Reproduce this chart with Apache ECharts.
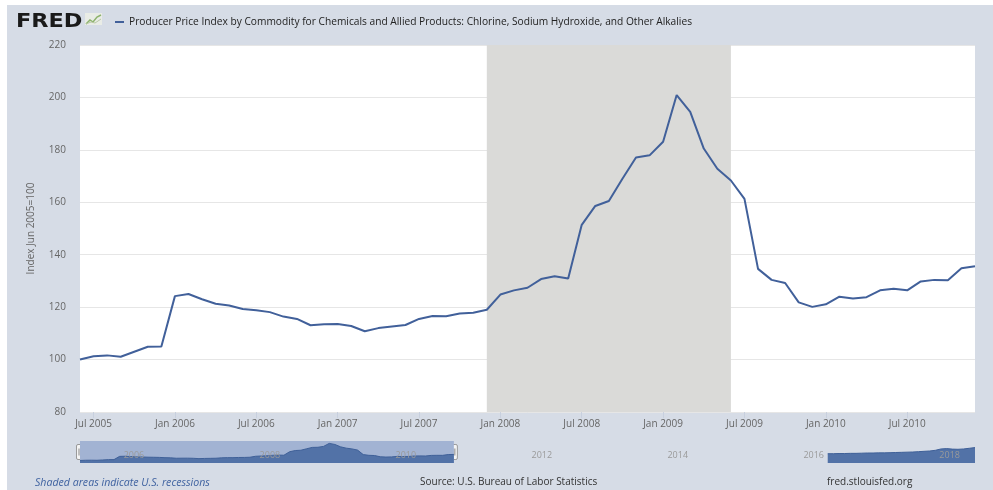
<!DOCTYPE html>
<html><head><meta charset="utf-8">
<script src="https://cdn.jsdelivr.net/npm/echarts@6/dist/echarts.min.js"></script>
<style>html,body{margin:0;padding:0;background:#fff;}#c{width:993px;height:490px;}</style>
</head><body><div id="c"></div>
<script>
const seriesName = "Producer Price Index by Commodity for Chemicals and Allied Products: Chlorine, Sodium Hydroxide, and Other Alkalies";
const yAxisName = "Index Jun 2005=100";
// monthly values, Jun 2005 .. Dec 2010
const v2005 = [100.0, 101.3, 101.6, 101.1, 103.0, 104.9, 105.0]; // Jun-Dec
const v2006 = [124.2, 125.0, 123.0, 121.3, 120.6, 119.3, 118.8, 118.1, 116.4, 115.5, 113.1, 113.5];
const v2007 = [113.6, 112.8, 110.8, 112.0, 112.6, 113.2, 115.5, 116.6, 116.5, 117.6, 117.9, 119.0];
const v2008 = [124.8, 126.4, 127.4, 130.7, 131.8, 130.9, 151.4, 158.6, 160.5, 169.0, 177.1, 177.9];
const v2009 = [183.1, 200.9, 194.5, 180.5, 172.8, 168.3, 161.3, 134.6, 130.4, 129.2, 121.8, 120.1];
const v2010 = [121.1, 124.0, 123.3, 123.8, 126.4, 127.0, 126.4, 129.8, 130.4, 130.3, 134.8, 135.6];
const yearBlocks = [[2005, 6, v2005], [2006, 1, v2006], [2007, 1, v2007], [2008, 1, v2008], [2009, 1, v2009], [2010, 1, v2010]];
// navigator tail segment (Jun 2016 .. Aug 2018)
const navTail2016 = [140, 140, 141, 141, 142, 142, 143]; // Jun-Dec
const navTail2017 = [144, 144, 145, 145, 146, 147, 148, 149, 150, 152, 154, 156];
const navTail2018 = [160, 168, 170, 167, 166, 168, 172, 176]; // Jan-Aug
const navBlocks = [[2016, 6, navTail2016], [2017, 1, navTail2017], [2018, 1, navTail2018]];
const xTicks = ['2005-07', '2006-01', '2006-07', '2007-01', '2007-07', '2008-01', '2008-07', '2009-01', '2009-07', '2010-01', '2010-07'];
const navTicks = ['2006-01', '2008-01', '2010-01', '2012-01', '2014-01', '2016-01', '2018-01'];
const recession = ['2007-12', '2009-06'];
const mainRange = ['2005-06', '2010-12'];
const navRange = ['2005-06', '2018-08'];
const yMin = 80, yMax = 220, yStep = 20;

const BASE_YEAR = 2005;
const MON = ['Jan','Feb','Mar','Apr','May','Jun','Jul','Aug','Sep','Oct','Nov','Dec'];
// month index counted from Jan 2005
function mi(s) { const p = s.split('-'); return (+p[0] - BASE_YEAR) * 12 + (+p[1] - 1); }
function miLabel(v) { const y = BASE_YEAR + Math.floor(v / 12); return MON[((v % 12) + 12) % 12] + ' ' + y; }
function blocksToData(blocks) {
  const out = [];
  blocks.forEach(([y, m0, vals]) => vals.forEach((v, i) => out.push([(y - BASE_YEAR) * 12 + (m0 - 1) + i, v])));
  return out;
}
const mainData = blocksToData(yearBlocks);
const navTailData = blocksToData(navBlocks);

const FONT = "'Open Sans', 'DejaVu Sans', sans-serif";
const lineColor = '#41609a';
const chart = echarts.init(document.getElementById('c'), null, {renderer: 'canvas'});
chart.setOption({
  backgroundColor: '#d6dce6',
  animation: false,
  textStyle: {fontFamily: FONT},
  legend: {
    left: 110, top: 12, icon: 'rect', itemWidth: 9, itemHeight: 2, itemGap: 6,
    data: [seriesName], selectedMode: false,
    textStyle: {fontSize: 10.2, color: '#222', fontFamily: FONT}
  },
  grid: [
    {left: 80, right: 18, top: 45, bottom: 78, show: true, backgroundColor: '#ffffff', borderWidth: 0},
    {left: 80, right: 18, top: 441, bottom: 27, show: false}
  ],
  xAxis: [
    {
      type: 'value', gridIndex: 0, min: mi(mainRange[0]), max: mi(mainRange[1]),
      axisLine: {show: false},
      axisTick: {show: true, customValues: xTicks.map(mi), length: 6, lineStyle: {color: '#c8d0de'}},
      axisLabel: {
        customValues: xTicks.map(mi), hideOverlap: false, margin: 7, color: '#666', fontSize: 10,
        formatter: v => miLabel(v)
      },
      splitLine: {show: false}
    },
    {
      type: 'value', gridIndex: 1, min: mi(navRange[0]), max: mi(navRange[1]), z: 10,
      axisLine: {show: false}, axisTick: {show: false}, splitLine: {show: false},
      axisLabel: {
        customValues: navTicks.map(mi), inside: true, margin: 3, align: 'left', padding: [0, 0, 0, 4],
        color: '#9a9a9a', fontSize: 9, hideOverlap: false,
        formatter: v => String(BASE_YEAR + Math.floor(v / 12))
      }
    }
  ],
  yAxis: [
    {
      type: 'value', gridIndex: 0, min: yMin, max: yMax, interval: yStep,
      axisLine: {show: false}, axisTick: {show: false},
      axisLabel: {color: '#666', fontSize: 10, margin: 14},
      splitLine: {lineStyle: {color: '#e6e6e6', width: 1}},
      name: yAxisName, nameLocation: 'middle', nameGap: 44,
      nameTextStyle: {color: '#666', fontSize: 10}
    },
    {type: 'value', gridIndex: 1, min: 85, max: 215, show: false}
  ],
  series: [
    {
      name: seriesName, type: 'line', xAxisIndex: 0, yAxisIndex: 0, data: mainData,
      symbol: 'none', z: 3,
      lineStyle: {color: lineColor, width: 2}, itemStyle: {color: lineColor},
      markArea: {silent: true, itemStyle: {color: '#dadad8'},
        data: [[{xAxis: mi(recession[0])}, {xAxis: mi(recession[1])}]]}
    },
    {
      name: 'navBand', type: 'line', xAxisIndex: 1, yAxisIndex: 1, data: mainData,
      symbol: 'none', silent: true, z: 1, lineStyle: {opacity: 0},
      markArea: {silent: true, itemStyle: {color: '#a2b3d3'},
        data: [[{xAxis: mi(mainRange[0])}, {xAxis: mi(mainRange[1])}]]}
    },
    {
      name: 'navMain', type: 'line', xAxisIndex: 1, yAxisIndex: 1, data: mainData,
      symbol: 'none', silent: true, z: 2,
      lineStyle: {color: '#3f6098', width: 1}, areaStyle: {color: '#5272a7', opacity: 1}
    },
    {
      name: 'navTail', type: 'line', xAxisIndex: 1, yAxisIndex: 1, data: navTailData,
      symbol: 'none', silent: true, z: 2,
      lineStyle: {color: '#3f6098', width: 1}, areaStyle: {color: '#5272a7', opacity: 1}
    }
  ]
});

// decorations: logo, handles, footer
const hx0 = chart.convertToPixel({xAxisIndex: 1}, mi(mainRange[0]));
const hx1 = chart.convertToPixel({xAxisIndex: 1}, mi(mainRange[1]));
function handle(x) {
  return {type: 'group', x: x, y: 452, z: 100, children: [
    {type: 'rect', shape: {x: -3.5, y: -7.5, width: 7, height: 15, r: 1.5}, style: {fill: '#f4f4f4', stroke: '#999', lineWidth: 1}},
    {type: 'line', shape: {x1: -1, y1: -3.5, x2: -1, y2: 3.5}, style: {stroke: '#888', lineWidth: 1}},
    {type: 'line', shape: {x1: 1, y1: -3.5, x2: 1, y2: 3.5}, style: {stroke: '#888', lineWidth: 1}}
  ]};
}
chart.setOption({graphic: [
  {type: 'rect', left: 0, top: 0, shape: {width: 993, height: 5}, style: {fill: '#ffffff'}, z: 50},
  {type: 'rect', left: 0, top: 0, shape: {width: 7, height: 490}, style: {fill: '#ffffff'}, z: 50},
  {type: 'text', x: 16, y: 12, scaleX: 1.12, z: 60, style: {text: 'FRED', fill: '#1a1a1a', verticalAlign: 'top', font: "900 20px 'DejaVu Sans', sans-serif"}},
  {type: 'group', x: 85, y: 13, z: 60, children: [
    {type: 'rect', shape: {x: 0, y: 0, width: 17, height: 12}, style: {fill: '#e9ece6'}},
    {type: 'polyline', shape: {points: [[1, 11], [5, 7], [8, 9], [12, 4], [16, 2]]}, style: {stroke: '#8db36d', lineWidth: 1.5, fill: null}},
    {type: 'polyline', shape: {points: [[1, 11], [6, 9], [10, 10], [16, 6]]}, style: {stroke: '#b9c9a6', lineWidth: 1, fill: null}}
  ]},
  handle(hx0), handle(hx1),
  {type: 'text', left: 35, top: 477, z: 60, style: {text: 'Shaded areas indicate U.S. recessions', fill: '#3f62a0', font: "italic 10.6px 'Open Sans', sans-serif"}},
  {type: 'text', left: 420, top: 477, z: 60, style: {text: 'Source: U.S. Bureau of Labor Statistics', fill: '#333', font: "10px 'Open Sans', sans-serif"}},
  {type: 'text', left: 827, top: 477, z: 60, style: {text: 'fred.stlouisfed.org', fill: '#333', font: "10px 'Open Sans', sans-serif"}}
]});
</script></body></html>
